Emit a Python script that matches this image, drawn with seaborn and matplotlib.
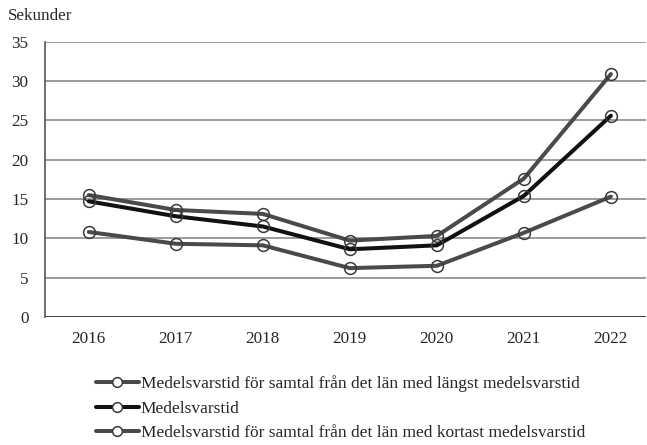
import pandas as pd
import seaborn as sns
import matplotlib.pyplot as plt
from matplotlib.lines import Line2D

years = [2016, 2017, 2018, 2019, 2020, 2021, 2022]
langst = [15.5, 13.6, 13.1, 9.7, 10.3, 17.6, 30.9]
medel = [14.7, 12.8, 11.5, 8.6, 9.1, 15.4, 25.6]
kortast = [10.8, 9.3, 9.1, 6.2, 6.5, 10.7, 15.3]

labels = [
    "Medelsvarstid för samtal från det län med längst medelsvarstid",
    "Medelsvarstid",
    "Medelsvarstid för samtal från det län med kortast medelsvarstid",
]
colors = ["#4a4a4a", "#111111", "#4a4a4a"]

sns.set_style("white")
plt.rcParams["font.family"] = ["Liberation Serif", "DejaVu Serif"]
plt.rcParams["font.size"] = 12.5

fig = plt.figure(figsize=(6.47, 4.45), dpi=100)
ax = fig.add_axes([0.07, 0.288, 0.928, 0.618])

series = [langst, medel, kortast]
for vals, lab, col in zip(series, labels, colors):
    df = pd.DataFrame({"År": years, "Sekunder": vals})
    sns.lineplot(data=df, x="År", y="Sekunder", ax=ax, color=col, linewidth=2.9,
                 marker="o", markersize=8.5, markerfacecolor="none",
                 markeredgecolor="#3a3a3a", markeredgewidth=1.1)

ax.set_xlim(2015.5, 2022.4)
ax.set_ylim(0, 35)
ax.set_yticks(range(0, 36, 5))
ax.set_xticks(years)
ax.set_xticklabels([str(y) for y in years])
ax.set_xlabel("")
ax.set_ylabel("")
ax.grid(axis="y", color="#8a8a8a", linewidth=1.2)
ax.grid(axis="x", visible=False)
for s in ["top", "right", "bottom"]:
    ax.spines[s].set_visible(False)
ax.spines["left"].set_color("#555555")
ax.spines["left"].set_linewidth(1.2)
ax.axhline(0, color="#444444", linewidth=1.4, zorder=1)
ax.tick_params(axis="both", length=0, pad=10, labelsize=12.3)
ax.tick_params(axis="y", pad=12)

fig.text(0.012, 0.965, "Sekunder", fontsize=12.3, va="center", ha="left")

handles = [
    Line2D([0], [0], color=c, linewidth=2.9, marker="o", markersize=7,
           markerfacecolor="white", markeredgecolor="#3a3a3a", markeredgewidth=1.1)
    for c in colors
]
fig.legend(handles, labels, loc="upper left", bbox_to_anchor=(0.137, 0.172),
           frameon=False, handlelength=2.5, handletextpad=0.1, labelspacing=0.48,
           fontsize=12.5, borderaxespad=0)

fig.savefig("out.png", dpi=100)
